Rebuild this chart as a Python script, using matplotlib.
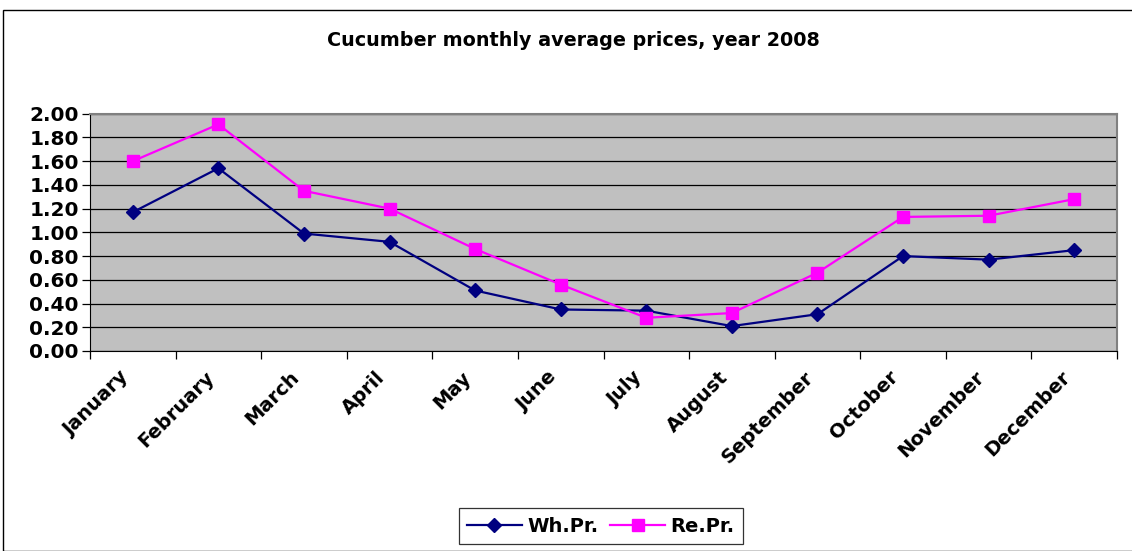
import numpy as np
import matplotlib
matplotlib.use("Agg")
import matplotlib.pyplot as plt
import matplotlib.transforms as mtransforms
from matplotlib.patches import Rectangle

# ---------- Data ----------
MONTHS = ["January", "February", "March", "April", "May", "June", "July",
          "August", "September", "October", "November", "December"]
WH_PR = [1.17, 1.54, 0.99, 0.92, 0.51, 0.35, 0.34, 0.21, 0.31, 0.80, 0.77, 0.85]
RE_PR = [1.60, 1.91, 1.35, 1.20, 0.86, 0.56, 0.28, 0.32, 0.66, 1.13, 1.14, 1.28]
Y_TICKS = [0.0, 0.2, 0.4, 0.6, 0.8, 1.0, 1.2, 1.4, 1.6, 1.8, 2.0]

TITLE = "Cucumber monthly average prices, year 2008"
FONT = "DejaVu Sans"

W, H = 1132, 551
fig = plt.figure(figsize=(W / 100, H / 100), dpi=100)

# outer chart frame
fig.patches.append(Rectangle((3 / W, 0), 1.2, 1 - 10 / H, transform=fig.transFigure,
                             fill=False, edgecolor="black", lw=1.0, zorder=0))

ax = fig.add_axes([90 / W, 1 - 351 / H, 1027 / W, (351 - 113.7) / H])
ax.set_facecolor("#C0C0C0")

x = np.arange(len(MONTHS))
ax.plot(x, WH_PR, color="#000080", lw=1.6, marker="D", ms=7.5,
        mfc="#000080", mec="#000080", label="Wh.Pr.", zorder=3)
ax.plot(x, RE_PR, color="#FF00FF", lw=1.6, marker="s", ms=8,
        mfc="#FF00FF", mec="#FF00FF", label="Re.Pr.", zorder=3)

ax.set_xlim(-0.5, len(MONTHS) - 0.5)
ax.set_ylim(0, 2.0)
ax.set_yticks(Y_TICKS)
ax.set_yticklabels([f"{v:.2f}" for v in Y_TICKS], fontfamily=FONT,
                   fontweight="bold", fontsize=14.5)
ax.yaxis.grid(True, color="black", lw=0.9)
ax.set_axisbelow(True)

# category boundaries carry the tick marks, labels sit at the centers
ax.set_xticks(np.arange(len(MONTHS) + 1) - 0.5)
ax.set_xticklabels([])
ax.set_xticks(x, minor=True)
ax.set_xticklabels(MONTHS, minor=True, rotation=45, ha="right",
                   rotation_mode="anchor", fontfamily=FONT,
                   fontweight="bold", fontsize=14)
ax.tick_params(axis="x", which="minor", length=0, pad=12)
ax.tick_params(axis="x", which="major", length=6, color="black", width=0.9)
ax.tick_params(axis="y", length=6, color="black", width=0.9, pad=2)

# nudge the slanted month labels a little to the left
shift = mtransforms.ScaledTranslation(-14 / 100, 0, fig.dpi_scale_trans)
for lbl in ax.get_xticklabels(minor=True):
    lbl.set_transform(lbl.get_transform() + shift)

for side in ["top", "right"]:
    ax.spines[side].set_color("#808080")
    ax.spines[side].set_linewidth(1.5)
ax.spines["left"].set_color("black")
ax.spines["bottom"].set_color("black")

fig.text(573 / W, 1 - 40 / H, TITLE, ha="center", va="center",
         fontfamily=FONT, fontweight="bold", fontsize=13.8)

leg = fig.legend(loc="center", bbox_to_anchor=(601 / W, 1 - 526 / H),
                 ncol=2, frameon=True, fancybox=False, edgecolor="black",
                 prop={"family": FONT, "weight": "bold", "size": 14},
                 handlelength=2.8, columnspacing=0.6, handletextpad=0.3,
                 borderpad=0.45)
leg.get_frame().set_linewidth(0.9)

fig.savefig("out.png", dpi=100)
